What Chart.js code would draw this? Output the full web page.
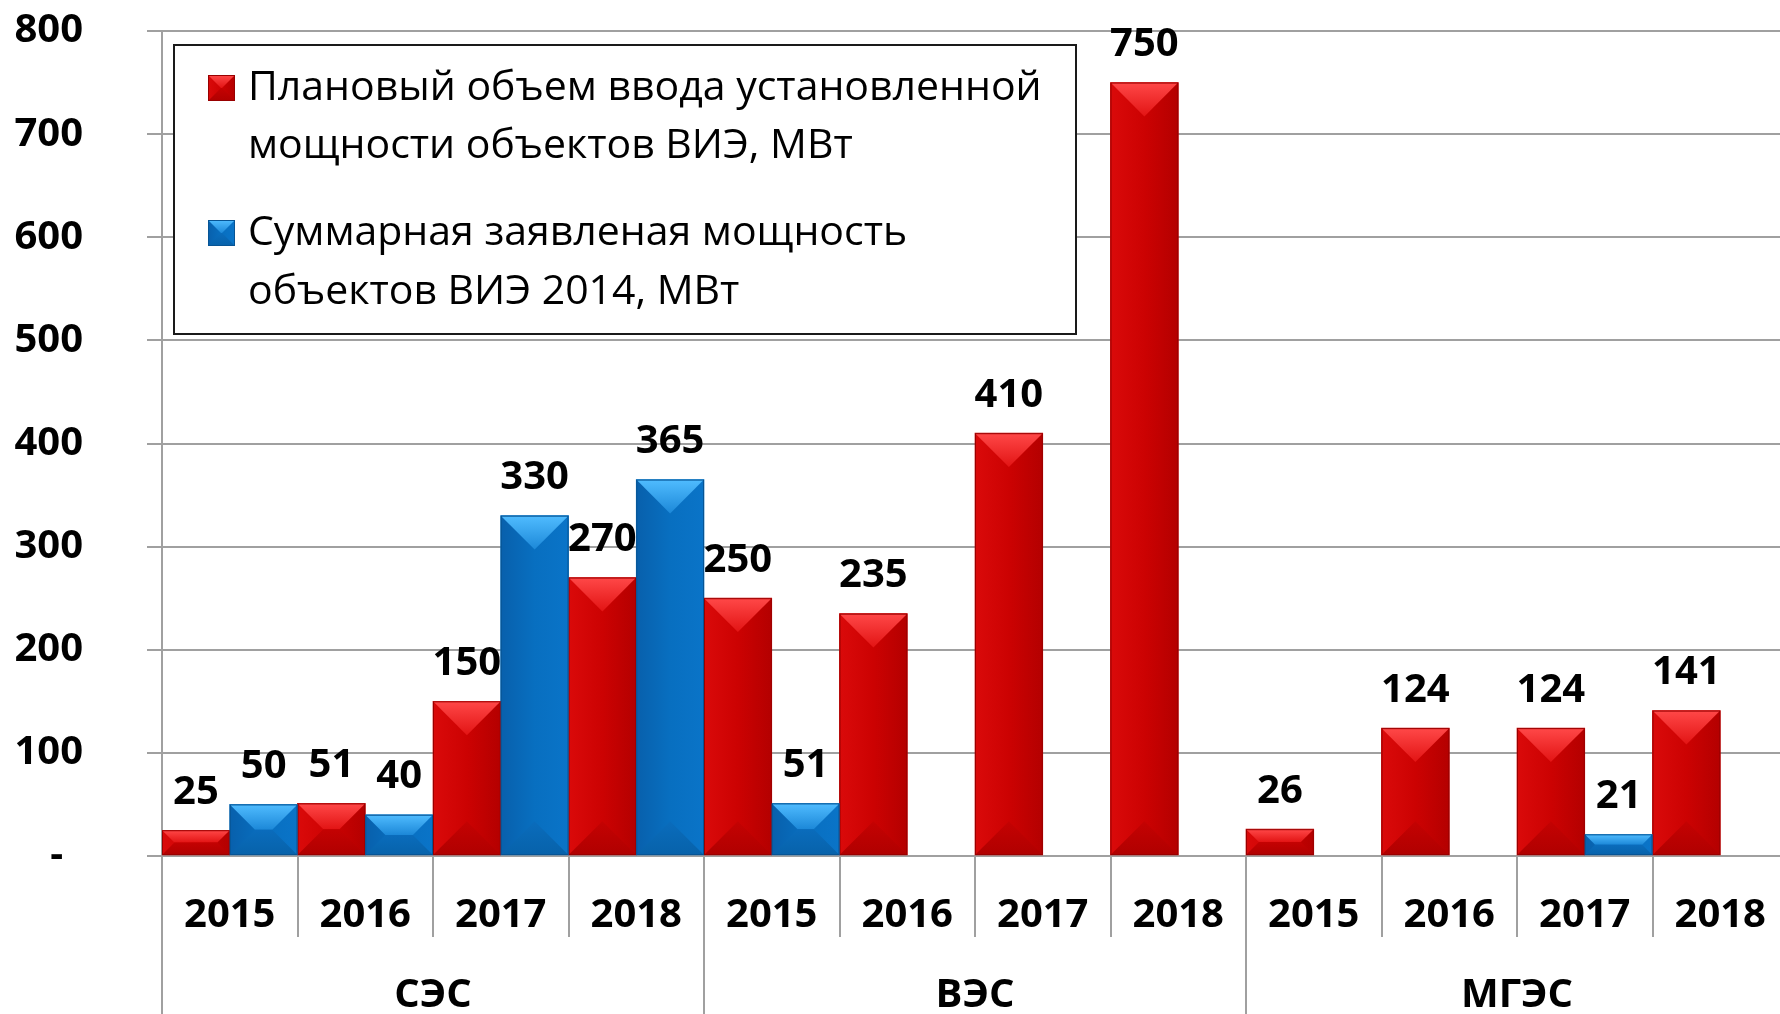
<!DOCTYPE html>
<html lang="ru">
<head>
<meta charset="utf-8">
<title>Ввод мощности объектов ВИЭ</title>
<script src="https://cdn.jsdelivr.net/npm/chart.js@4.4.1/dist/chart.umd.min.js"></script>
<style>
  html, body { margin: 0; padding: 0; background: #fff; overflow: hidden; }
  #wrap { position: relative; width: 1790px; height: 1014px; }
</style>
</head>
<body>
<div id="wrap"><canvas id="chart"></canvas></div>
<script>
// Data
const years = ["2015", "2016", "2017", "2018", "2015", "2016", "2017", "2018", "2015", "2016", "2017", "2018"];
const groups = ["СЭС", "ВЭС", "МГЭС"];
const planned = [25, 51, 150, 270, 250, 235, 410, 750, 26, 124, 124, 141];
const declared = [50, 40, 330, 365, 51, null, null, null, null, null, 21, null];
const seriesNames = [
  ["Плановый объем ввода установленной", "мощности объектов ВИЭ, МВт"],
  ["Суммарная заявленая мощность", "объектов ВИЭ 2014, МВт"],
];

const FONT = '"Open Sans", "DejaVu Sans", sans-serif';
const GRID = "#a0a0a0";
const NUM_SIZE = 40;

const palettes = [
  { body: ["#da0a0a", "#cc0202", "#b40000"], top: ["#ff4848", "#e21414"], bottom: ["#c40202", "#b00000"], edge: "#980000" },
  { body: ["#0860ac", "#086fc0", "#0a74c8"], top: ["#50bcff", "#1c88d8"], bottom: ["#0a6cbc", "#0762aa"], edge: "#075494" },
];

// bevelled bar, same look as the original office chart
function paintBar(ctx, left, right, top, bottom, pal) {
  const w = right - left;
  const h = bottom - top;
  if (h <= 0 || w <= 0) return;
  const d = Math.min(w / 2, h / 2);
  let g = ctx.createLinearGradient(left, 0, right, 0);
  g.addColorStop(0, pal.body[0]);
  g.addColorStop(0.5, pal.body[1]);
  g.addColorStop(1, pal.body[2]);
  ctx.fillStyle = g;
  ctx.fillRect(left, top, w, h);

  g = ctx.createLinearGradient(0, top, 0, top + d);
  g.addColorStop(0, pal.top[0]);
  g.addColorStop(1, pal.top[1]);
  ctx.fillStyle = g;
  ctx.beginPath();
  ctx.moveTo(left, top);
  ctx.lineTo(right, top);
  ctx.lineTo(right - d, top + d);
  ctx.lineTo(left + d, top + d);
  ctx.closePath();
  ctx.fill();

  g = ctx.createLinearGradient(0, bottom - d, 0, bottom);
  g.addColorStop(0, pal.bottom[0]);
  g.addColorStop(1, pal.bottom[1]);
  ctx.fillStyle = g;
  ctx.beginPath();
  ctx.moveTo(left, bottom);
  ctx.lineTo(right, bottom);
  ctx.lineTo(right - d, bottom - d);
  ctx.lineTo(left + d, bottom - d);
  ctx.closePath();
  ctx.fill();

  ctx.strokeStyle = pal.edge;
  ctx.lineWidth = 1;
  ctx.strokeRect(left + 0.5, top + 0.5, w - 1, h - 1);
}

// Repaint bars with bevels and put value labels over them
const barLook = {
  id: "barLook",
  afterDatasetsDraw(chart) {
    const ctx = chart.ctx;
    ctx.save();
    chart.data.datasets.forEach((ds, di) => {
      const meta = chart.getDatasetMeta(di);
      meta.data.forEach((el, i) => {
        if (ds.data[i] == null) return;
        const { x, y, base, width } = el.getProps(["x", "y", "base", "width"], true);
        paintBar(ctx, x - width / 2, x + width / 2, y, base, palettes[di]);
      });
    });
    ctx.font = "bold " + NUM_SIZE + "px " + FONT;
    ctx.fillStyle = "#000";
    ctx.textAlign = "center";
    ctx.textBaseline = "middle";
    chart.data.datasets.forEach((ds, di) => {
      const meta = chart.getDatasetMeta(di);
      meta.data.forEach((el, i) => {
        if (ds.data[i] == null) return;
        const { x, y } = el.getProps(["x", "y"], true);
        ctx.fillText(String(ds.data[i]), x, y - 38);
      });
    });
    ctx.restore();
  },
};

// Category separators, group names and the boxed legend
const extras = {
  id: "extras",
  afterDraw(chart) {
    const ctx = chart.ctx;
    const xs = chart.scales.x;
    const area = chart.chartArea;
    const half = (xs.getPixelForValue(1) - xs.getPixelForValue(0)) / 2;
    const edge = (i) => (i < years.length ? xs.getPixelForValue(i) - half : xs.getPixelForValue(i - 1) + half);

    ctx.save();
    ctx.strokeStyle = GRID;
    ctx.lineWidth = 2;
    for (let i = 0; i <= years.length; i++) {
      const bx = Math.round(edge(i));
      ctx.beginPath();
      ctx.moveTo(bx, area.bottom);
      ctx.lineTo(bx, i % 4 === 0 ? chart.height : area.bottom + 81);
      ctx.stroke();
    }

    ctx.font = "bold " + NUM_SIZE + "px " + FONT;
    ctx.fillStyle = "#000";
    ctx.textAlign = "center";
    ctx.textBaseline = "middle";
    groups.forEach((name, g) => {
      const cx = (edge(g * 4) + edge(g * 4 + 4)) / 2;
      ctx.fillText(name, cx, area.bottom + 140);
    });

    // legend box
    ctx.fillStyle = "#fff";
    ctx.fillRect(174, 45, 902, 289);
    ctx.strokeStyle = "#1a1a1a";
    ctx.lineWidth = 2;
    ctx.strokeRect(174, 45, 902, 289);

    const rows = [[88, 146], [233, 292]];
    ctx.font = "41px " + FONT;
    ctx.textAlign = "left";
    seriesNames.forEach((lines, k) => {
      const y0 = rows[k][0];
      paintBar(ctx, 208, 235, y0 - 13, y0 + 13, palettes[k]);
      ctx.fillStyle = "#000";
      lines.forEach((line, j) => ctx.fillText(line, 248, rows[k][j]));
    });
    ctx.restore();
  },
};

new Chart(document.getElementById("chart"), {
  type: "bar",
  data: {
    labels: years,
    datasets: [
      {
        label: seriesNames[0].join(" "),
        data: planned,
        backgroundColor: "#c80000",
        borderWidth: 0,
        barPercentage: 1,
        categoryPercentage: 1,
      },
      {
        label: seriesNames[1].join(" "),
        data: declared,
        backgroundColor: "#0870c0",
        borderWidth: 0,
        barPercentage: 1,
        categoryPercentage: 1,
      },
    ],
  },
  options: {
    responsive: true,
    maintainAspectRatio: false,
    animation: false,
    layout: { padding: { top: 31, right: 2, left: 0, bottom: 0 } },
    plugins: {
      legend: { display: false },
      tooltip: { enabled: false },
    },
    scales: {
      x: {
        grid: { display: false },
        border: { display: false },
        ticks: {
          color: "#000",
          font: { family: FONT, size: NUM_SIZE, weight: "bold", lineHeight: 1 },
          padding: 32,
          autoSkip: false,
          maxRotation: 0,
        },
        afterFit: (s) => {
          s.height = 158;
          s.paddingLeft = 0;
          s.paddingRight = 0;
        },
      },
      y: {
        min: 0,
        max: 800,
        grid: { color: GRID, lineWidth: 2, tickLength: 15 },
        border: { display: true, color: GRID, width: 2 },
        ticks: {
          stepSize: 100,
          color: "#000",
          font: { family: FONT, size: NUM_SIZE, weight: "bold" },
          padding: 64,
          callback: (v) => (v === 0 ? "-\u2002" : String(v)),
        },
        afterFit: (s) => {
          s.width = 162;
          s.paddingTop = 0;
          s.paddingBottom = 0;
        },
      },
    },
  },
  plugins: [barLook, extras],
});
</script>
</body>
</html>
